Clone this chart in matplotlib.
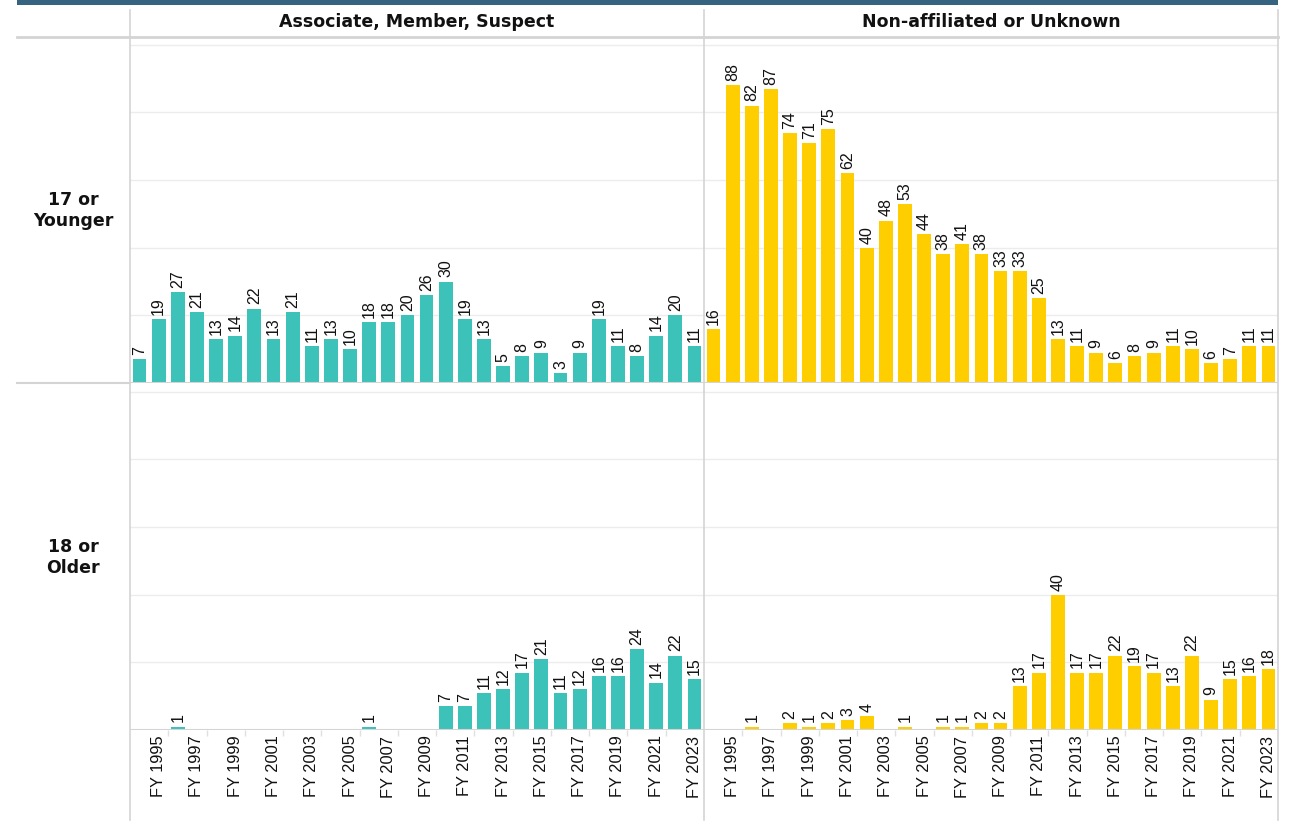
import matplotlib
matplotlib.use("Agg")
import matplotlib.pyplot as plt
from matplotlib.lines import Line2D
import numpy as np

years = list(range(1994, 2024))
year_labels = [f"FY {y}" if y % 2 == 1 else "" for y in years]

col_headers = ["Associate, Member, Suspect", "Non-affiliated or Unknown"]
row_headers = ["17 or\nYounger", "18 or\nOlder"]

amc_young = [7, 19, 27, 21, 13, 14, 22, 13, 21, 11, 13, 10, 18, 18, 20,
             26, 30, 19, 13, 5, 8, 9, 3, 9, 19, 11, 8, 14, 20, 11]
non_young = [16, 88, 82, 87, 74, 71, 75, 62, 40, 48, 53, 44, 38, 41, 38,
             33, 33, 25, 13, 11, 9, 6, 8, 9, 11, 10, 6, 7, 11, 11]
amc_old = [0, 0, 1, 0, 0, 0, 0, 0, 0, 0, 0, 0, 1, 0, 0,
           0, 7, 7, 11, 12, 17, 21, 11, 12, 16, 16, 24, 14, 22, 15]
non_old = [0, 0, 1, 0, 2, 1, 2, 3, 4, 0, 1, 0, 1, 1, 2,
           2, 13, 17, 40, 17, 17, 22, 19, 17, 13, 22, 9, 15, 16, 18]

TEAL = "#3cc2b9"
YELLOW = "#ffce00"
GRID = "#ececec"
LINE = "#d4d4d4"

W, H = 1289, 836
fig = plt.figure(figsize=(W / 100, H / 100), dpi=100)
fig.patch.set_facecolor("white")

def fx(px):
    return px / W

def fy(py):
    return 1 - py / H

col_x = [130, 704]
col_w = 574
row_top = [38, 385]
row_h = 345
ymax = 102

panels = [[amc_young, non_young], [amc_old, non_old]]
colors = [TEAL, YELLOW]

x = np.arange(len(years))
for r in range(2):
    for c in range(2):
        ax = fig.add_axes([fx(col_x[c]), fy(row_top[r] + row_h), fx(col_w), row_h / H])
        vals = panels[r][c]
        bars = ax.bar(x, vals, width=0.72, color=colors[c], zorder=3)
        labels = [str(v) if v > 0 else "" for v in vals]
        ax.bar_label(bars, labels=labels, rotation=90, padding=3,
                     fontsize=11.5, color="#111111", family="Liberation Sans")
        ax.set_xlim(-0.5, len(years) - 0.5)
        ax.set_ylim(0, ymax)
        ax.set_yticks([20, 40, 60, 80, 100])
        ax.yaxis.grid(True, color=GRID, lw=1, zorder=0)
        ax.tick_params(axis="y", left=False, labelleft=False)
        for s in ax.spines.values():
            s.set_visible(False)
        ax.axhline(0, color=LINE, lw=1.5, zorder=4)
        if r == 1:
            ax.set_xticks(x)
            ax.set_xticklabels(year_labels, rotation=90, fontsize=11.8,
                               family="Liberation Sans", color="#111111")
            ax.tick_params(axis="x", length=0, pad=4)
            ax.set_xticks(np.arange(1.5, len(years) - 1, 2), minor=True)
            ax.tick_params(axis="x", which="minor", length=4, color="#e0e0e0", width=1)
        else:
            ax.set_xticks([])

# column headers
for c in range(2):
    fig.text(fx(col_x[c] + col_w / 2), fy(22), col_headers[c], ha="center", va="center",
             fontsize=12.5, fontweight="bold", color="#111111", family="DejaVu Sans")
# row headers
for r in range(2):
    fig.text(fx(73), fy(row_top[r] + row_h / 2), row_headers[r], ha="center", va="center",
             fontsize=12.5, fontweight="bold", color="#111111", family="DejaVu Sans",
             linespacing=1.25)

# decorative frame lines
fig.add_artist(plt.Rectangle((fx(17), fy(5)), fx(1278 - 17), 5 / H, transform=fig.transFigure,
                             color="#36637f", lw=0))
fig.add_artist(Line2D([fx(17), fx(1278)], [fy(37), fy(37)], transform=fig.transFigure,
                      color=LINE, lw=2))
fig.add_artist(Line2D([fx(17), fx(130)], [fy(383), fy(383)], transform=fig.transFigure,
                      color=LINE, lw=1.5))
for xv in [130, 704, 1278]:
    fig.add_artist(Line2D([fx(xv), fx(xv)], [fy(10), fy(820)], transform=fig.transFigure,
                          color=LINE, lw=1.2))

fig.savefig("out.png", dpi=100, facecolor="white")
